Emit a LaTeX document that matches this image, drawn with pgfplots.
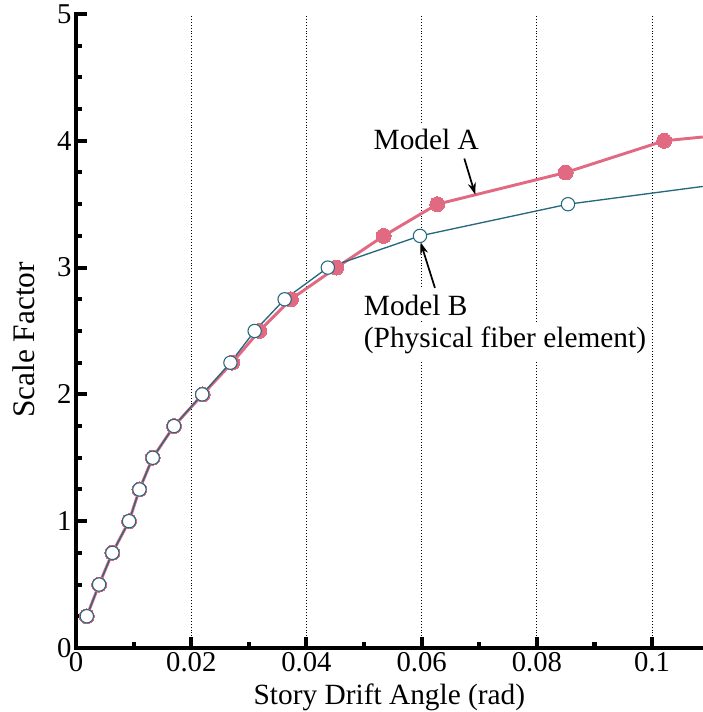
\documentclass[border=0pt]{standalone}
\usepackage{pgfplots}
\pgfplotsset{compat=1.18}
\usepackage{fontspec}
\setmainfont{Liberation Serif}
\usetikzlibrary{arrows.meta}

\definecolor{modelA}{RGB}{225,106,130}
\definecolor{modelB}{RGB}{38,104,124}

\begin{document}
\begin{tikzpicture}
\begin{axis}[
    scale only axis,
    width=469.6pt, height=475pt,
    xmin=0, xmax=0.1088,
    ymin=0, ymax=5,
    axis x line=bottom, axis y line=left,
    axis line style={-, line width=3pt, line cap=rect},
    xtick={0,0.02,0.04,0.06,0.08,0.1},
    xticklabels={0,0.02,0.04,0.06,0.08,0.1},
    minor x tick num=1,
    ytick={0,1,2,3,4,5},
    minor y tick num=3,
    tick align=inside,
    major tick length=8pt,
    minor tick length=4.5pt,
    every tick/.append style={black, line width=3pt},
    tick label style={font=\fontsize{21.5}{25}\selectfont},
    /pgf/number format/assume math mode=true,
    xmajorgrids,
    major x grid style={black, line width=0.6pt, dash pattern=on 0.6pt off 1.6pt},
    every axis x label/.style={at={(axis description cs:0.5,0)}, anchor=base, yshift=-42.75pt},
    every axis y label/.style={at={(axis description cs:0,0.486)}, rotate=90, anchor=base, yshift=31.5pt},
    xlabel style={font=\fontsize{22}{26}\selectfont},
    ylabel style={font=\fontsize{23.5}{27}\selectfont},
    xlabel={Story Drift Angle (rad)},
    ylabel={Scale Factor},
    clip=true,
]
% Model A
\addplot[modelA, line width=2.2pt, mark=*, mark size=5.6pt,
    mark options={fill=modelA, draw=modelA, line width=0pt},
    mark indices={1,...,16}] coordinates {
    (0.00186,0.25) (0.0040,0.5) (0.0063,0.75) (0.0092,1.0)
    (0.0110,1.25) (0.0133,1.5) (0.0170,1.75) (0.0220,2.0)
    (0.0271,2.25) (0.0318,2.5) (0.0373,2.75) (0.0452,3.0)
    (0.0534,3.25) (0.0627,3.5) (0.0850,3.75) (0.1021,4.0)
    (0.1088,4.03)
};
% Model B
\addplot[modelB, line width=1pt, mark=*, mark size=5pt,
    mark options={fill=white, draw=modelB, line width=0.8pt},
    mark indices={1,...,14}] coordinates {
    (0.00186,0.25) (0.0040,0.5) (0.0063,0.75) (0.0092,1.0)
    (0.0110,1.25) (0.0133,1.5) (0.0170,1.75) (0.0219,2.0)
    (0.0268,2.25) (0.0310,2.5) (0.0362,2.75) (0.0437,3.0)
    (0.0597,3.25) (0.0854,3.5) (0.1088,3.64)
};

% annotations
\node[fill=white, inner xsep=2pt, inner ysep=5pt, anchor=base,
      font=\fontsize{22}{26}\selectfont] at (axis cs:0.0608,3.93) {Model A};
\draw[-{Stealth[length=9pt,width=6pt]}, line width=1.3pt]
    (axis cs:0.0674,3.86) -- (axis cs:0.0693,3.575);

\node[fill=white, inner xsep=1pt, inner ysep=4pt, anchor=base west,
      font=\fontsize{22}{26}\selectfont] at (axis cs:0.0497,2.626) {Model B};
\node[fill=white, inner xsep=1pt, inner ysep=4pt, anchor=base west,
      font=\fontsize{22}{26}\selectfont] at (axis cs:0.0497,2.366) {(Physical fiber element)};
\draw[-{Stealth[length=9pt,width=6pt]}, line width=1.3pt]
    (axis cs:0.0623,2.84) -- (axis cs:0.0598,3.20);
\end{axis}
\pgfresetboundingbox
\path[use as bounding box]
    ([shift={(-57pt,-48pt)}]current axis.south west) rectangle
    ([shift={(0pt,10.5pt)}]current axis.north east);
\end{tikzpicture}
\end{document}
